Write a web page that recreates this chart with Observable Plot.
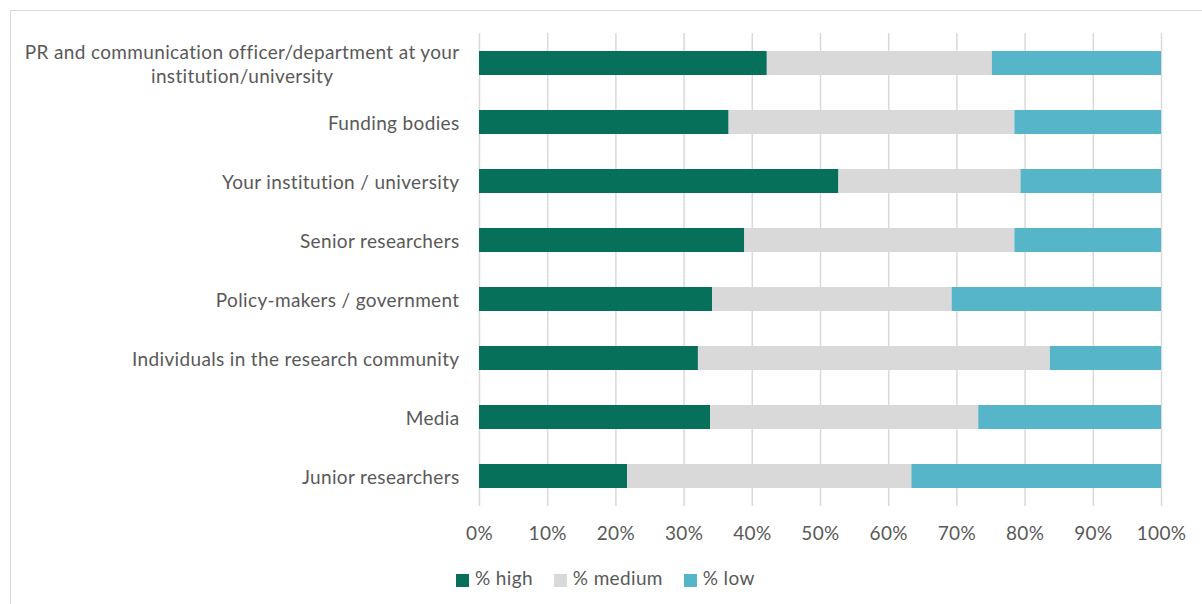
<!DOCTYPE html>
<html>
<head>
<meta charset="utf-8">
<script src="https://cdn.jsdelivr.net/npm/d3@7"></script>
<script src="https://cdn.jsdelivr.net/npm/@observablehq/plot@0.6"></script>
<style>
  body { margin: 0; background: #fff; font-family: Lato, sans-serif; }
  #wrap { position: relative; width: 1202px; height: 604px; overflow: hidden; }
  #frame { position: absolute; left: 10px; top: 10px; width: 1200px; height: 600px; border: 1.5px solid #d9d9d9; box-sizing: border-box; }
  #chart { position: absolute; left: 0; top: 0; }
  #chart svg text { letter-spacing: 0.35px; }
  #legend { position: absolute; left: 456px; top: 567px; display: flex; font-size: 19px; color: #595959; line-height: 22px; letter-spacing: 0.35px; }
  #legend .item { display: flex; align-items: center; margin-right: 21px; }
  #legend .sw { width: 13px; height: 13px; margin-right: 6px; margin-top: 4px; }
</style>
</head>
<body>
<div id="wrap">
  <div id="frame"></div>
  <div id="chart"></div>
  <div id="legend"></div>
</div>
<script>
const categories = [
  "PR and communication officer/department at your\ninstitution/university",
  "Funding bodies",
  "Your institution / university",
  "Senior researchers",
  "Policy-makers / government",
  "Individuals in the research community",
  "Media",
  "Junior researchers"
];
const seriesNames = ["% high", "% medium", "% low"];
const seriesColors = ["#07705A", "#D9D9D9", "#56B5C8"];
const high   = [42.2, 36.6, 52.7, 38.9, 34.2, 32.1, 33.9, 21.7];
const medium = [33.0, 41.9, 26.7, 39.6, 35.1, 51.6, 39.3, 41.7];
const low    = [24.8, 21.5, 20.6, 21.5, 30.7, 16.3, 26.8, 36.6];
const xTicks = [0, 10, 20, 30, 40, 50, 60, 70, 80, 90, 100];

const rows = [];
categories.forEach((c, i) => {
  rows.push({cat: c, series: seriesNames[0], value: high[i]});
  rows.push({cat: c, series: seriesNames[1], value: medium[i]});
  rows.push({cat: c, series: seriesNames[2], value: low[i]});
});

const font = "Lato, sans-serif";
const chart = Plot.plot({
  width: 1202,
  height: 560,
  marginLeft: 479,
  marginRight: 41,
  marginTop: 33,
  marginBottom: 54,
  style: {fontFamily: font, fontSize: "19px", color: "#595959", background: "transparent"},
  x: {domain: [0, 100], ticks: xTicks, label: null},
  y: {domain: categories, paddingInner: 0.594, paddingOuter: 0.29, label: null},
  color: {domain: seriesNames, range: seriesColors},
  marks: [
    Plot.gridX(xTicks, {stroke: "#d9d9d9", strokeOpacity: 1, strokeWidth: 1.5}),
    Plot.barX(rows, Plot.stackX({x: "value", y: "cat", fill: "series", order: seriesNames})),
    Plot.axisX({ticks: xTicks, tickSize: 0, tickPadding: 20, tickFormat: d => d + "%", fontSize: 19, label: null}),
    Plot.axisY({tickSize: 0, tickPadding: 20, fontSize: 19, lineHeight: 1.22, label: null})
  ]
});
document.getElementById("chart").appendChild(chart);

// center wrapped multi-line y labels like the original
chart.querySelectorAll("text").forEach(t => {
  const spans = t.querySelectorAll("tspan");
  if (spans.length > 1) {
    let w = 0;
    spans.forEach(s => { w = Math.max(w, s.getComputedTextLength()); });
    t.setAttribute("text-anchor", "middle");
    spans.forEach(s => s.setAttribute("x", String(-w / 2)));
  }
});

const legend = document.getElementById("legend");
seriesNames.forEach((n, i) => {
  const item = document.createElement("div");
  item.className = "item";
  const sw = document.createElement("div");
  sw.className = "sw";
  sw.style.background = seriesColors[i];
  const lab = document.createElement("span");
  lab.textContent = n;
  item.appendChild(sw); item.appendChild(lab);
  legend.appendChild(item);
});
</script>
</body>
</html>
